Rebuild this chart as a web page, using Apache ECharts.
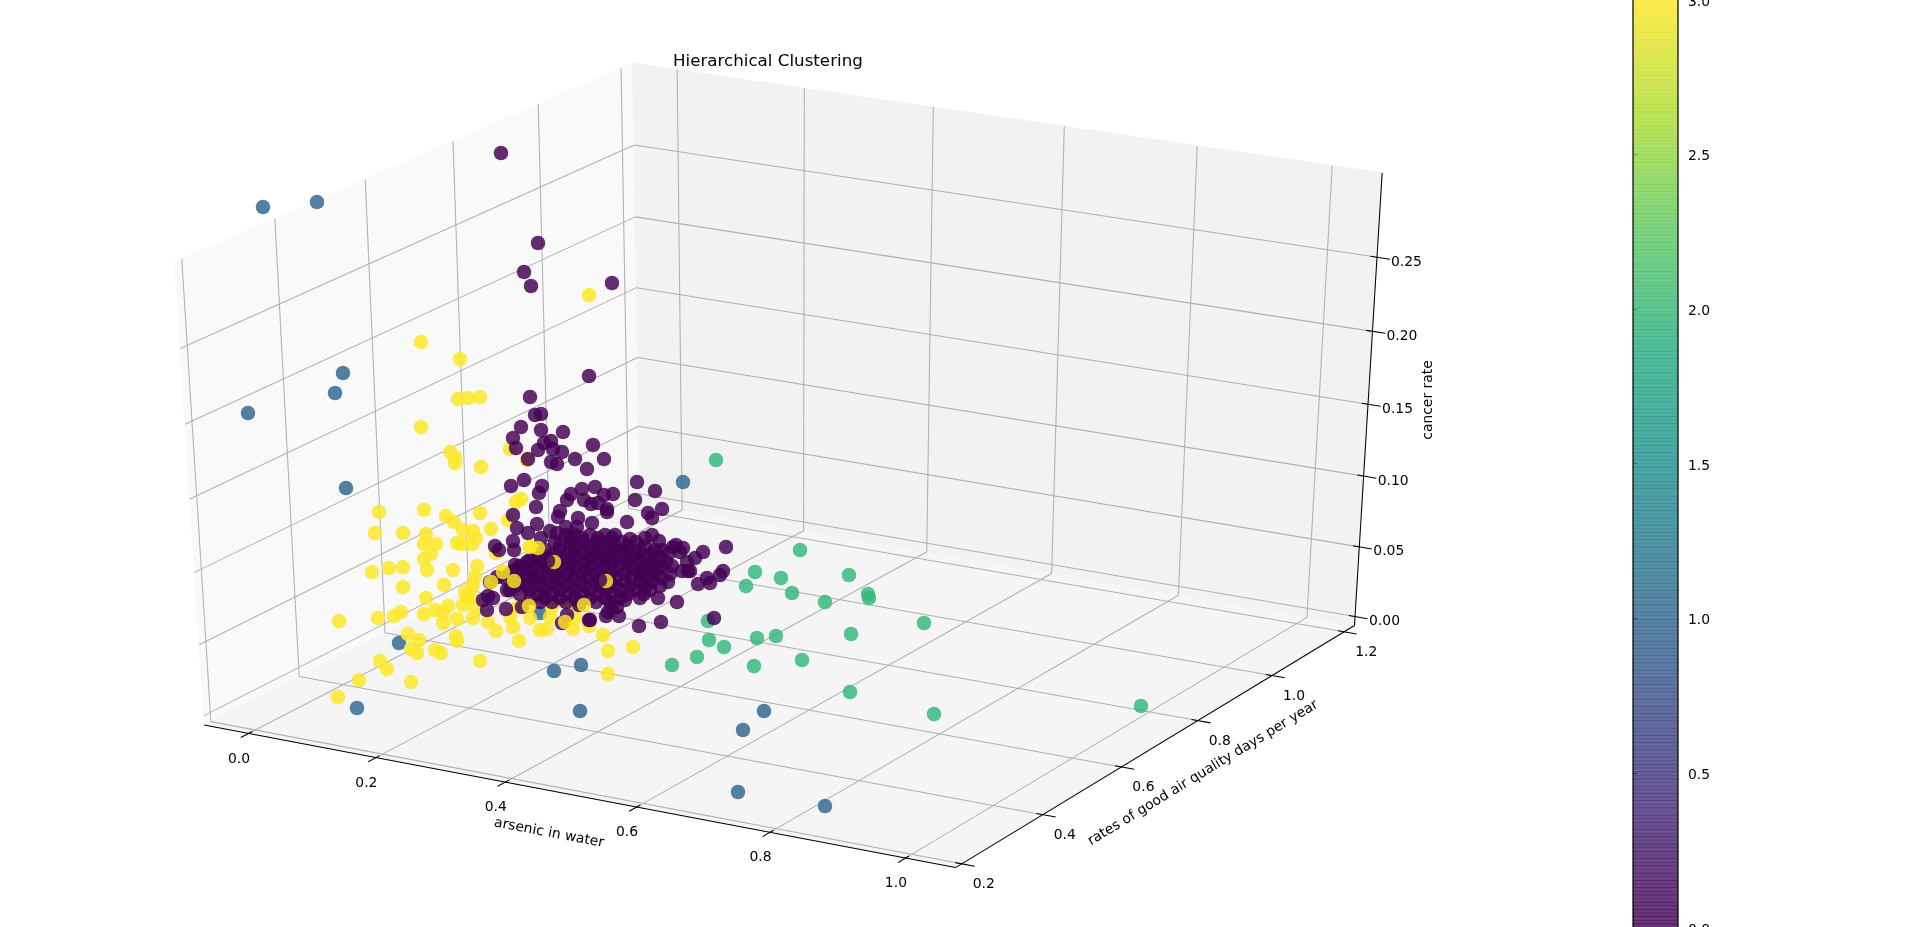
<!DOCTYPE html>
<html><head><meta charset="utf-8">
<style>html,body{margin:0;padding:0;background:#fff;overflow:hidden}#c{width:1920px;height:927px}</style>
<script src="https://cdn.jsdelivr.net/npm/echarts@6/dist/echarts.min.js"></script>
</head><body><div id="c"></div>
<script>
// Readings from the flat picture: [across, down] on the view plane.
const blueCluster=[[263,207],[317,202],[343,373],[335,393],[248,413],[346,488],[399,643],[357,708],[554,671],[581,665],[580,711],[683,482],[764,711],[743,730],[738,792],[825,806],[540,613]];
const greenCluster=[[716,460],[800,550],[755,572],[781,578],[849,575],[746,586],[792,593],[825,602],[868,594],[869,598],[924,623],[851,634],[708,621],[709,640],[724,647],[757,638],[776,636],[754,666],[802,660],[697,657],[672,665],[850,692],[934,714],[1141,706]];
const yellowBehind=[[589,295],[421,342],[460,359],[458,399],[468,398],[480,397],[421,427],[450,452],[455,457],[455,463],[481,467],[510,449],[527,460],
[379,512],[424,510],[446,516],[454,522],[480,513],[375,533],[403,533],[426,534],[463,530],[473,531],[491,529],[476,538],[457,543],[462,544],[472,544],[424,544],[436,544],[431,554],[424,559],[372,572],[389,568],[403,567],[427,570],[453,570],[477,566],[475,577],[403,587],[444,585],[473,585],[426,598],[465,592],[470,596],[339,621],[378,618],[394,616],[401,612],[424,614],[435,610],[443,613],[448,606],[443,623],[457,619],[463,605],[473,618],[476,607],[467,598],[488,622],[496,631],[513,627],[510,617],[518,607],[408,634],[419,640],[456,636],[457,641],[411,649],[417,653],[435,650],[441,653],[480,661],[380,661],[387,669],[519,641],[540,630],[547,629],[552,607],[530,618],[550,617],[573,629],[568,603],[575,618],[589,626],[603,635],[608,651],[633,647],[608,674],[530,547],[538,548],[503,572],[491,582],[514,581],[496,553],[508,520],[516,502],[521,499],[359,680],[338,697],[411,682]];
const purpleCluster=[[501,153],[538,243],[524,272],[531,286],[612,283],[589,376],[530,397],[535,415],[541,414],[521,427],[541,430],[563,432],[513,438],[516,448],[551,441],[544,443],[538,450],[553,449],[562,452],[593,445],[528,459],[575,459],[604,459],[551,462],[557,464],[587,469],
[511,486],[524,480],[542,486],[539,493],[637,482],[655,491],[582,489],[595,487],[571,494],[567,500],[584,500],[604,495],[613,494],[635,500],[591,504],[598,503],[536,507],[607,509],[607,512],[662,509],[648,513],[652,518],[560,511],[558,517],[513,515],[627,522],[578,518],[577,527],[592,523],[537,524],[517,528],[566,527],[528,533],[550,531],[557,533],[541,538],[513,541],[495,546],[499,550],[514,550],[630,539],[645,538],[652,535],[659,541],[726,547],[703,552],[676,545],[683,548],[695,558],[687,562],[680,552],[669,553],[662,550],[682,571],[690,571],[723,571],[720,575],[707,578],[670,574],[657,570],[640,575],
[566,535],[575,535],[590,535],[605,535],[615,535],[555,542],[570,542],[583,542],[597,542],[610,542],[622,542],[636,542],[545,550],[560,550],[575,550],[590,550],[602,550],[615,550],[628,550],[640,550],[655,550],[535,558],[550,558],[565,558],[578,558],[592,558],[606,558],[620,558],[634,558],[648,558],[660,558],[520,566],[535,566],[548,566],[562,566],[576,566],[590,566],[604,566],[618,566],[632,566],[646,566],[660,566],[672,566],[510,574],[525,574],[540,574],[555,574],[568,574],[582,574],[596,574],[610,574],[625,574],[640,574],[655,574],[520,582],[535,582],[550,582],[565,582],[580,582],[595,582],[610,582],[625,582],[640,582],[652,582],[668,582],[510,590],[530,590],[545,590],[560,590],[575,590],[590,590],[605,590],[620,590],[635,590],[650,590],[545,598],[560,598],[575,598],[590,598],[605,598],[620,598],[640,598],
[570,538],[582,538],[598,538],[612,538],[560,546],[574,546],[588,546],[600,546],[614,546],[628,546],[645,546],[540,554],[553,554],[568,554],[582,554],[596,554],[610,554],[624,554],[638,554],[652,554],[527,562],[542,562],[556,562],[570,562],[584,562],[598,562],[612,562],[626,562],[640,562],[654,562],[666,562],[515,570],[530,570],[545,570],[558,570],[572,570],[586,570],[600,570],[614,570],[628,570],[642,570],[650,570],[505,578],[518,578],[532,578],[547,578],[560,578],[574,578],[588,578],[602,578],[616,578],[632,578],[648,578],[662,578],[515,586],[527,586],[541,586],[556,586],[570,586],[585,586],[600,586],[615,586],[630,586],[645,586],[660,586],[520,594],[538,594],[552,594],[568,594],[582,594],[598,594],[612,594],[628,594],[644,594],[540,602],[552,602],[566,602],[580,602],[596,602],[610,602],
[490,582],[497,577],[488,596],[483,600],[493,598],[506,609],[487,610],[507,590],[522,568],[515,565],[530,560],[533,577],[531,598],[522,607],[579,605],[567,615],[562,623],[590,620],[608,612],[619,616],[617,607],[625,600],[714,618],[661,622],[639,626],[677,602],[658,598],[710,583],[698,584],[688,571],[673,547],[606,616],[612,608],[589,620]];
const yellowInFront=[[554,562],[606,581],[565,622],[584,605],[529,606],[503,572],[491,582],[514,581],[530,547],[538,548]];
const purpleOverYellow=[[548,561],[600,580]];

const xTicks=[0,0.2,0.4,0.6,0.8,1.0];
const yTicks=[0.2,0.4,0.6,0.8,1.0,1.2];
const zTicks=[0,0.05,0.10,0.15,0.20,0.25];
const barTicks=[0,0.5,1.0,1.5,2.0,2.5,3.0];
const xLim=[-0.0703,1.0732], yLim=[0.185,1.229], zLim=[-0.0065,0.306];
const titleText='Hierarchical Clustering';

const viridis=[[68,1,84],[71,44,122],[59,81,139],[44,113,142],[33,144,141],[39,173,129],[92,200,99],[170,220,50],[253,231,37]];
const COL={blue:'#31688e',green:'#35b779',yellow:'#fde725',purple:'#440154'};
const FONT='"DejaVu Sans"';

// Camera of the 3D view
const el=29*Math.PI/180, az=-60.3*Math.PI/180, dist=10;
const Ax=788.5,Sx=8635,Ay=451.2,Sy=5230;
const se=Math.sin(el),ce=Math.cos(el),ca=Math.cos(az),sa=Math.sin(az);
function P(a,b,c){
  const x=(a-xLim[0])/(xLim[1]-xLim[0])-.5,y=(b-yLim[0])/(yLim[1]-yLim[0])-.5,z=(c-zLim[0])/(zLim[1]-zLim[0])-.5;
  const nd=ce*ca*x+ce*sa*y+se*z,ud=-sa*x+ca*y,vd=-se*ca*x-se*sa*y+ce*z,d=dist-nd;
  return [Ax+Sx*ud/d,Ay-Sy*vd/d];
}
const [x0,x1]=xLim,[y0,y1]=yLim,[z0,z1]=zLim;
const dx=(x1-x0),dy=(y1-y0);
const panes=[
 {c:[P(x0,y0,z0),P(x0,y1,z0),P(x0,y1,z1),P(x0,y0,z1)],f:'#f9f9f9'},
 {c:[P(x0,y1,z0),P(x1,y1,z0),P(x1,y1,z1),P(x0,y1,z1)],f:'#f2f2f2'},
 {c:[P(x0,y0,z0),P(x1,y0,z0),P(x1,y1,z0),P(x0,y1,z0)],f:'#f5f5f5'}
];
const gridSegs=[],axisSegs=[],texts=[];
function seg(list,p,q){list.push([p[0],p[1],q[0],q[1]]);}
xTicks.forEach(t=>{seg(gridSegs,P(t,y0,z0),P(t,y1,z0));seg(gridSegs,P(t,y1,z0),P(t,y1,z1));
  seg(axisSegs,P(t,y0-.0167*dy,z0),P(t,y0+.0083*dy,z0));
  const q=P(t,y0,z0);texts.push({p:q,dx:-9.5,dy:25.5,t:t.toFixed(1)});});
yTicks.forEach(t=>{seg(gridSegs,P(x1,t,z0),P(x0,t,z0));seg(gridSegs,P(x0,t,z0),P(x0,t,z1));
  seg(axisSegs,P(x1+.0167*dx,t,z0),P(x1-.0083*dx,t,z0));
  const q=P(x1,t,z0);texts.push({p:q,dx:22,dy:20.5,t:t.toFixed(1)});});
zTicks.forEach(t=>{seg(gridSegs,P(x0,y0,t),P(x0,y1,t));seg(gridSegs,P(x0,y1,t),P(x1,y1,t));
  seg(axisSegs,P(x1+.0167*dx,y1,t),P(x1-.0083*dx,y1,t));
  const q=P(x1,y1,t);texts.push({p:q,dx:29.5,dy:4.8,t:t.toFixed(2)});});
seg(axisSegs,P(x0,y0,z0),P(x1,y0,z0));
seg(axisSegs,P(x1,y0,z0),P(x1,y1,z0));
seg(axisSegs,P(x1,y1,z0),P(x1,y1,z1));
const axisNames=[
 {x:549,y:833,t:'arsenic in water',r:-10.7},
 {x:1203,y:773,t:'rates of good air quality days per year',r:31.3},
 {x:1428,y:400,t:'cancer rate',r:90}
];
const bands=[];for(let i=0;i<256;i++)bands.push(i);
function band(i){const f=i/255*(viridis.length-1),k=Math.min(Math.floor(f),viridis.length-2),m=f-k;
  const c=viridis[k].map((v,j)=>Math.round(v+(viridis[k+1][j]-v)*m));return `rgba(${c[0]},${c[1]},${c[2]},0.8)`;}

function segSeries(data,stroke,w,z){return {type:'custom',coordinateSystem:'cartesian2d',xAxisIndex:0,yAxisIndex:0,silent:true,z,clip:false,data,
  renderItem:(p,api)=>{const a=api.coord([api.value(0),api.value(1)]),b=api.coord([api.value(2),api.value(3)]);
    return {type:'line',shape:{x1:a[0],y1:a[1],x2:b[0],y2:b[1]},style:{stroke,lineWidth:w}};}};}
function dots(data,color,z){return {type:'scatter',xAxisIndex:0,yAxisIndex:0,data,symbolSize:14.5,silent:true,z,clip:false,itemStyle:{color,opacity:.83}};}

const option={animation:false,backgroundColor:'#fff',
 title:{text:titleText,left:673,top:53,padding:0,textStyle:{fontFamily:FONT,fontSize:16.7,fontWeight:'normal',color:'#000'}},
 grid:[{left:0,top:0,width:1920,height:927,show:false,outerBoundsMode:'none'},{left:1633,top:-0.5,width:45,height:928,show:false,outerBoundsMode:'none'}],
 xAxis:[{type:'value',min:0,max:1920,show:false},{type:'value',gridIndex:1,min:0,max:1,show:false}],
 yAxis:[{type:'value',min:0,max:927,inverse:true,show:false},
  {type:'value',gridIndex:1,min:0,max:3,interval:.5,position:'right',splitLine:{show:false},axisLine:{show:false},
   axisTick:{show:true,length:4,lineStyle:{color:'#000',width:1}},axisLabel:{show:false}}],
 series:[
  {type:'custom',xAxisIndex:0,yAxisIndex:0,silent:true,z:1,clip:false,data:panes.map((_,i)=>[i,0]),
   renderItem:(p,api)=>{const q=panes[p.dataIndex];return {type:'polygon',shape:{points:q.c.map(c=>api.coord(c))},style:{fill:q.f,stroke:q.f,lineWidth:1}};}},
  segSeries(gridSegs,'#b0b0b0',1.05,2),
  segSeries(axisSegs,'#000',1.05,3),
  dots(blueCluster,COL.blue,4),dots(greenCluster,COL.green,4),dots(yellowBehind,COL.yellow,5),dots(purpleCluster,COL.purple,6),dots(yellowInFront,COL.yellow,7),dots(purpleOverYellow,COL.purple,7.5),
  {type:'custom',xAxisIndex:0,yAxisIndex:0,silent:true,z:8,clip:false,data:texts.map((_,i)=>[i,0]),
   renderItem:(p,api)=>{const t=texts[p.dataIndex],c=api.coord(t.p);
    return {type:'text',x:c[0]+t.dx,y:c[1]+t.dy,style:{text:t.t,fill:'#000',font:'13.9px '+FONT,align:'center',verticalAlign:'middle'}};}},
  {type:'custom',xAxisIndex:0,yAxisIndex:0,silent:true,z:8,clip:false,data:axisNames.map((n)=>[n.x,n.y]),
   renderItem:(p,api)=>{const n=axisNames[p.dataIndex],c=api.coord([api.value(0),api.value(1)]);
    return {type:'text',x:c[0],y:c[1],rotation:n.r*Math.PI/180,style:{text:n.t,fill:'#000',font:'13.9px '+FONT,align:'center',verticalAlign:'middle'}};}},
  {type:'custom',xAxisIndex:1,yAxisIndex:1,silent:true,z:8,clip:false,data:barTicks.map(v=>[1,v]),
   renderItem:(p,api)=>{const c=api.coord([api.value(0),api.value(1)]);
    return {type:'text',x:c[0]+10,y:c[1]+2.5,style:{text:api.value(1).toFixed(1),fill:'#000',font:'13.9px '+FONT,align:'left',verticalAlign:'middle'}};}},
  {type:'custom',xAxisIndex:1,yAxisIndex:1,silent:true,z:2,clip:false,data:bands.map(i=>[i,0]),
   renderItem:(p,api)=>{const i=p.dataIndex,a=api.coord([0,i/256*3]),b=api.coord([1,(i+1)/256*3]);
    return {type:'rect',shape:{x:a[0],y:b[1]-.3,width:b[0]-a[0],height:a[1]-b[1]+.6},style:{fill:band(i)}};}},
  {type:'custom',xAxisIndex:1,yAxisIndex:1,silent:true,z:3,clip:false,data:[[0,0]],
   renderItem:(p,api)=>{const a=api.coord([0,0]),b=api.coord([1,3]);
    return {type:'rect',shape:{x:a[0],y:b[1],width:b[0]-a[0],height:a[1]-b[1]},style:{fill:'none',stroke:'#000',lineWidth:1.2}};}}
 ]};
echarts.init(document.getElementById('c'),null,{renderer:'canvas'}).setOption(option);
</script></body></html>
